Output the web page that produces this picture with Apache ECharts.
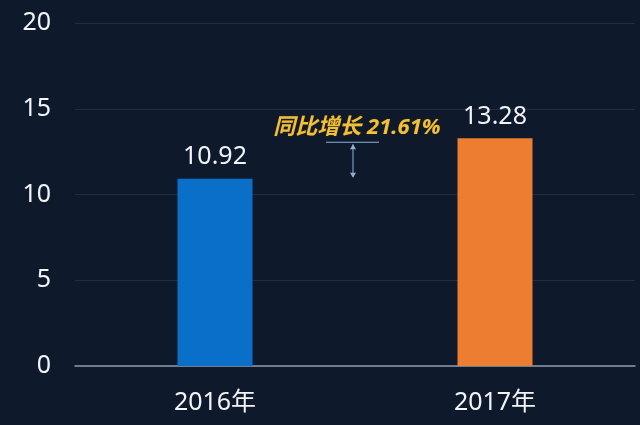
<!DOCTYPE html>
<html>
<head>
<meta charset="utf-8">
<script src="https://cdn.jsdelivr.net/npm/echarts@6/dist/echarts.min.js"></script>
<style>
  html, body { margin: 0; padding: 0; background: #0e1a2b; }
  #main { width: 640px; height: 425px; }
</style>
</head>
<body>
<div id="main"></div>
<script>
// data
const years = ["2016年", "2017年"];
const values = [10.92, 13.28];
const barColors = ["#0a6fc9", "#ed7d31"];
const growthText = "同比增长 21.61%";

const chart = echarts.init(document.getElementById("main"), null, { renderer: "canvas" });

const font = "'Noto Sans', 'Noto Sans CJK SC', sans-serif";

chart.setOption({
  backgroundColor: "#0e1a2b",
  animation: false,
  grid: { left: 75, right: 5, top: 23, bottom: 59 },
  xAxis: {
    type: "category",
    data: years,
    axisLine: { lineStyle: { color: "#8d9bb0", width: 1.5 } },
    axisTick: { show: false },
    axisLabel: { color: "#f2f4f7", fontSize: 25, margin: 24, fontFamily: font }
  },
  yAxis: {
    type: "value",
    min: 0,
    max: 20,
    interval: 5,
    axisLine: { show: false },
    axisTick: { show: false },
    splitLine: { lineStyle: { color: "#1f2d42", width: 1 } },
    axisLabel: { color: "#f2f4f7", fontSize: 25, margin: 24, fontFamily: font }
  },
  series: [{
    type: "bar",
    barWidth: 75,
    data: values.map((v, i) => ({ value: v, itemStyle: { color: barColors[i] } })),
    label: {
      show: true,
      position: "top",
      distance: 9,
      color: "#f2f4f7",
      fontSize: 25,
      fontFamily: font
    }
  }]
});

// growth arrow between the two bar heights
const pA = chart.convertToPixel({ gridIndex: 0 }, [0, values[0]]);
const pB = chart.convertToPixel({ gridIndex: 0 }, [1, values[1]]);
const midX = (pA[0] + pB[0]) / 2 - 2;
const topY = pB[1] + 4;
const botY = pA[1];
const arrowColor = "#8fb0d8";

chart.setOption({
  graphic: [
    {
      type: "line",
      shape: { x1: midX - 27, y1: topY, x2: midX + 26, y2: topY },
      style: { stroke: arrowColor, lineWidth: 1.2 }
    },
    {
      type: "line",
      shape: { x1: midX, y1: topY + 2, x2: midX, y2: botY - 2 },
      style: { stroke: arrowColor, lineWidth: 1 }
    },
    {
      type: "polygon",
      shape: { points: [[midX - 3, topY + 7], [midX + 3, topY + 7], [midX, topY + 2]] },
      style: { fill: arrowColor }
    },
    {
      type: "polygon",
      shape: { points: [[midX - 3, botY - 6], [midX + 3, botY - 6], [midX, botY - 1]] },
      style: { fill: arrowColor }
    },
    {
      type: "text",
      x: midX + 4,
      y: topY - 15,
      style: {
        text: growthText,
        fill: "#f2c038",
        font: "italic bold 22px " + font,
        align: "center",
        verticalAlign: "middle",
        stroke: "#2a2410",
        lineWidth: 1
      }
    }
  ]
});
</script>
</body>
</html>
